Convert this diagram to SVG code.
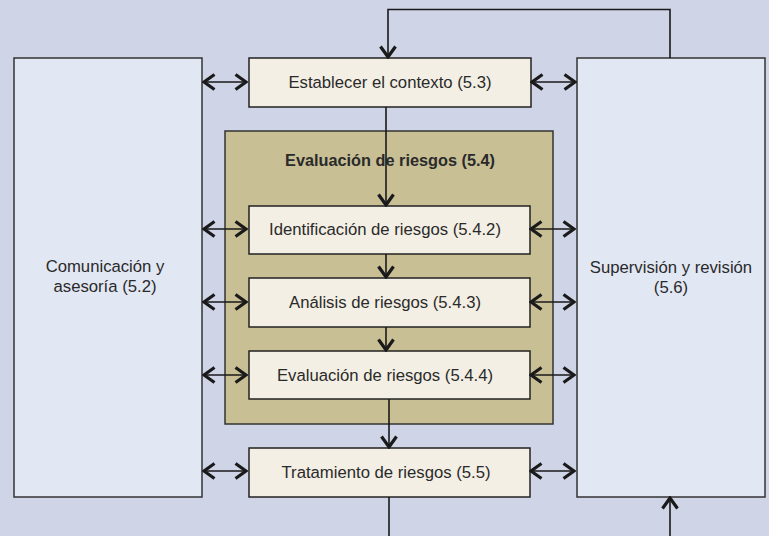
<svg xmlns="http://www.w3.org/2000/svg" width="769" height="536" viewBox="0 0 769 536">
<defs>
<marker id="ah" viewBox="0 0 14 18" markerWidth="14" markerHeight="18" refX="12" refY="9" orient="auto-start-reverse" markerUnits="userSpaceOnUse">
<path d="M1.5,1.5 L12,9 L1.5,16.5" fill="none" stroke="#1a1a1a" stroke-width="3.2"/>
</marker>
<style>
.side{fill:#E2E7F4;stroke:#333;stroke-width:1.5}
.box{fill:#F3EFE4;stroke:#222;stroke-width:1.5}
.grp{fill:#C8BF95;stroke:#333;stroke-width:1.5}
text{font-family:"Liberation Sans",Arial,sans-serif;font-size:16.7px;fill:#2a2a2a;text-anchor:middle}
.b{font-weight:bold;font-size:16.3px}
.c line,.c polyline{stroke:#1a1a1a;stroke-width:1.6;fill:none}
.d{marker-start:url(#ah);marker-end:url(#ah)}
.s{marker-end:url(#ah)}
</style>
</defs>
<rect width="769" height="536" fill="#CFD4E7"/>
<g id="comunicacion"><rect class="side" x="14" y="58" width="188" height="439"/><text x="105" y="272">Comunicación y</text><text x="105" y="292">asesoría (5.2)</text></g>
<g id="supervision"><rect class="side" x="577" y="58" width="188" height="439"/><text x="671" y="273">Supervisión y revisión</text><text x="671" y="293">(5.6)</text></g>
<g id="evaluacion-grupo"><rect class="grp" x="225" y="131" width="328" height="293"/><text class="b" x="390" y="166">Evaluación de riesgos (5.4)</text></g>
<g id="establecer"><rect class="box" x="249" y="58" width="282" height="49"/><text x="390" y="88">Establecer el contexto (5.3)</text></g>
<g id="identificacion"><rect class="box" x="249" y="206" width="281" height="48"/><text x="385" y="235">Identificación de riesgos (5.4.2)</text></g>
<g id="analisis"><rect class="box" x="249" y="278" width="281" height="49"/><text x="385" y="308">Análisis de riesgos (5.4.3)</text></g>
<g id="evaluacion"><rect class="box" x="249" y="351" width="281" height="48"/><text x="385" y="381">Evaluación de riesgos (5.4.4)</text></g>
<g id="tratamiento"><rect class="box" x="249" y="448" width="281" height="49"/><text x="386" y="478">Tratamiento de riesgos (5.5)</text></g>
<g class="c" id="connectors">
<polyline class="s" points="670,58 670,9.5 388,9.5 388,57"/>
<line class="s" x1="386" y1="107" x2="386" y2="205"/>
<line class="s" x1="386" y1="254" x2="386" y2="277"/>
<line class="s" x1="386" y1="327" x2="386" y2="350"/>
<line class="s" x1="389" y1="399" x2="389" y2="447"/>
<line x1="389" y1="497" x2="389" y2="536"/>
<line class="s" x1="670" y1="536" x2="670" y2="498"/>
<line class="d" x1="204" y1="82" x2="246" y2="82"/>
<line class="d" x1="532" y1="82" x2="575" y2="82"/>
<line class="d" x1="204" y1="229" x2="246" y2="229"/>
<line class="d" x1="531" y1="229" x2="574" y2="229"/>
<line class="d" x1="204" y1="302" x2="246" y2="302"/>
<line class="d" x1="531" y1="302" x2="574" y2="302"/>
<line class="d" x1="204" y1="375" x2="246" y2="375"/>
<line class="d" x1="531" y1="375" x2="574" y2="375"/>
<line class="d" x1="204" y1="471" x2="246" y2="471"/>
<line class="d" x1="531" y1="471" x2="574" y2="471"/>
</g>
</svg>
